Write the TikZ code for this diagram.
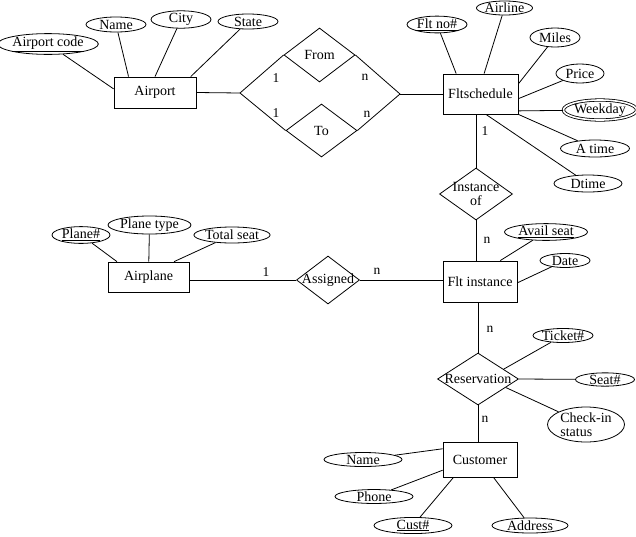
\documentclass[tikz,border=0pt]{standalone}
\usepackage{fontspec}
\setmainfont{Liberation Serif}
\usetikzlibrary{shapes.geometric}
\begin{document}
\begin{tikzpicture}[x=1pt,y=-1pt,line width=0.8pt,
  every node/.style={font=\fontsize{14}{14.5}\selectfont},
  ent/.style={draw,rectangle,inner sep=0pt},
  attr/.style={draw,ellipse,inner sep=0pt},
  rel/.style={draw,diamond,inner sep=0pt},
  card/.style={inner sep=0pt,font=\fontsize{13.5}{14}\selectfont}]
\useasboundingbox (0,0) rectangle (636,536);
% entities
\node[ent,minimum width=82pt,minimum height=31pt] (airport) at (155,92.5) {Airport};
\node[ent,minimum width=75pt,minimum height=40pt] (flt) at (480.5,94) {Fltschedule};
\node[ent,minimum width=74pt,minimum height=41pt] (fi) at (480,281.5) {Flt instance};
\node[ent,minimum width=81pt,minimum height=30pt] (airplane) at (148.5,277) {Airplane};
\node[ent,minimum width=74pt,minimum height=35pt] (cust) at (480,459.5) {Customer};
% relationships
\node[rel,minimum width=71pt,minimum height=54pt] (from) at (319.5,55) {};
\node (fromT) at (from) {From};
\node[rel,minimum width=71pt,minimum height=53pt] (to) at (321.5,130.5) {};
\node (toT) at (to) {To};
\coordinate (L) at (240,93);
\coordinate (R) at (400,94);
\node[rel,minimum width=73pt,minimum height=52pt] (inst) at (476,194) {};
\node[align=center,inner sep=0pt] (instT) at (inst) {Instance\\of};
\node[rel,minimum width=63pt,minimum height=48pt] (asg) at (328,280) {};
\node (asgT) at (asg) {Assigned};
\node[rel,minimum width=81pt,minimum height=52pt] (res) at (478,379) {};
\node (resT) at (res) {Reservation};
% attributes
\node[attr,minimum width=90pt,minimum height=16pt] (acode) at (48,44) {\underline{Airport code}};
\node[attr,minimum width=60pt,minimum height=15pt] (aname) at (116,24.5) {Name};
\node[attr,minimum width=60pt,minimum height=15pt] (city) at (181,19.5) {City};
\node[attr,minimum width=60pt,minimum height=15pt] (state) at (248,21.5) {State};
\node[attr,minimum width=60pt,minimum height=15pt] (fltno) at (437,24.5) {\underline{Flt no\#}};
\node[attr,minimum width=51pt,minimum height=14pt] (airline) at (504.5,8) {Airline};
\node[attr,minimum width=50pt,minimum height=19pt] (miles) at (555,37.5) {Miles};
\node[attr,minimum width=48pt,minimum height=19pt] (price) at (580,73.5) {Price};
\node[attr,double,double distance=1.6pt,minimum width=64pt,minimum height=20pt] (weekday) at (600,110) {Weekday};
\node[attr,minimum width=69pt,minimum height=17pt] (atime) at (595,148.5) {A time};
\node[attr,minimum width=68pt,minimum height=17pt] (dtime) at (588,183.5) {Dtime};
\node[attr,minimum width=83pt,minimum height=14pt] (avail) at (546,232) {\underline{Avail seat}};
\node[attr,minimum width=50pt,minimum height=14pt] (date) at (565,260.5) {Date};
\node[attr,minimum width=60pt,minimum height=14pt] (ticket) at (563,335.5) {Ticket\#};
\node[attr,minimum width=59pt,minimum height=13pt] (seat) at (605,379.5) {Seat\#};
\node[attr,align=left,minimum width=77pt,minimum height=35pt] (checkin) at (586,424.5) {Check-in\\status};
\node[attr,minimum width=78pt,minimum height=14pt] (cname) at (363,459.5) {Name};
\node[attr,minimum width=78pt,minimum height=13pt] (phone) at (374,496.5) {Phone};
\node[attr,minimum width=78pt,minimum height=15pt] (custno) at (413,525.5) {\underline{Cust\#}};
\node[attr,minimum width=76pt,minimum height=15pt] (address) at (530,525.5) {Address};
\node[attr,minimum width=58pt,minimum height=14pt] (planeno) at (81,235) {\underline{Plane\#}};
\node[attr,minimum width=75pt,minimum height=16pt] (planetype) at (149.5,225) {Plane type};
\node[attr,minimum width=70pt,minimum height=16pt] (totalseat) at (232,235) {Total seat};
% connectors: relationships
\draw (airport.east) -- (L);
\draw (L) -- (from.west);
\draw (L) -- (to.west);
\draw (R) -- (from.east);
\draw (R) -- (to.east);
\draw (R) -- (flt.west);
\draw (inst.north) -- (inst.north |- flt.south);
\draw (inst.south) -- (inst.south |- fi.north);
\draw (asg.west) -- (asg.west -| airplane.east);
\draw (asg.east) -- (asg.east -| fi.west);
\draw (res.north) -- (res.north |- fi.south);
\draw (res.south) -- (res.south |- cust.north);
% connectors: attributes
\draw (acode) -- (airport.175);
\draw (aname) -- (airport.149);
\draw (city) -- (airport.90);
\draw (state) -- (airport.24);
\draw (fltno) -- (flt.140);
\draw (airline) -- (flt.80);
\draw (miles) -- (flt.15);
\draw (price) -- (flt.-7);
\draw (weekday) -- (flt.-24);
\draw (atime) -- (flt.south east);
\draw (dtime) -- (flt.-75);
\draw (avail) -- (fi.46);
\draw (date) -- (fi.-2);
\draw (ticket) -- (res.21);
\draw (seat) -- (res.east);
\draw (checkin) -- (res.-17);
\draw (cname) -- (cust.164);
\draw (phone) -- (cust.196);
\draw (custno) -- (cust.-146);
\draw (address) -- (cust.-53);
\draw (planeno) -- (airplane.154);
\draw (planetype) -- (airplane);
\draw (totalseat) -- (airplane.31);
% cardinalities
\node[card] (c1) at (276,78) {1};
\node[card] (c2) at (276,113) {1};
\node[card] (c3) at (365,77) {n};
\node[card] (c4) at (367,114) {n};
\node[card] (c5) at (485,131) {1};
\node[card] (c6) at (487,240) {n};
\node[card] (c7) at (266,272) {1};
\node[card] (c8) at (377,271) {n};
\node[card] (c9) at (490,329) {n};
\node[card] (c10) at (485,419) {n};
\end{tikzpicture}
\end{document}
